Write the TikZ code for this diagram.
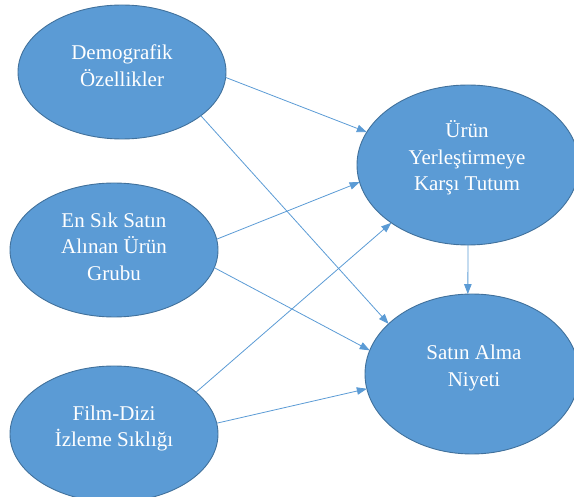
\documentclass[tikz,border=0pt]{standalone}
\usepackage{fontspec}
\setmainfont{Liberation Serif}
\usetikzlibrary{shapes.geometric,arrows.meta}
\definecolor{ellfill}{HTML}{5B9BD5}
\definecolor{ellline}{HTML}{41719C}
\definecolor{arrcol}{HTML}{5B9BD5}
\begin{document}
\begin{tikzpicture}[x=1pt,y=-1pt,
  blob/.style={ellipse,draw=ellline,line width=0.9pt,fill=ellfill,inner sep=0pt,outer sep=0pt},
  lbl/.style={text=white,align=center,font=\fontsize{21}{26.5}\selectfont,inner sep=0pt},
  conn/.style={draw=arrcol,line width=0.8pt,-{Triangle[length=10pt,width=7.5pt]}}]
\useasboundingbox (0,0) rectangle (574,497);
% ellipses
\node[blob,minimum width=208pt,minimum height=134pt] (d) at (122,72) {};
\node[blob,minimum width=208pt,minimum height=134pt] (e) at (114,250) {};
\node[blob,minimum width=208pt,minimum height=136pt] (f) at (114,434) {};
\node[blob,minimum width=222pt,minimum height=160pt] (u) at (468,165) {};
\node[blob,minimum width=214pt,minimum height=160pt] (s) at (472,374) {};
% labels
\node[lbl] (dt) at (122,67.7) {\strut Demografik\\\strut Özellikler};
\node[lbl] (et) at (114,248.7) {\strut En Sık Satın\\\strut Alınan Ürün\\\strut Grubu};
\node[lbl] (ft) at (114,428.4) {\strut Film-Dizi\\\strut İzleme Sıklığı};
\node[lbl] (ut) at (467,159.2) {\strut Ürün\\\strut Yerleştirmeye\\\strut Karşı Tutum};
\node[lbl] (st) at (474,367.7) {\strut Satın Alma\\\strut Niyeti};
% connectors
\draw[conn] (d.-3) -- (u.162);
\draw[conn] (d.-29) -- (s.149);
\draw[conn] (e.6) -- (u.189);
\draw[conn] (e.-10) -- (s.167);
\draw[conn] (f.27) -- (u.217);
\draw[conn] (f.6) -- (s.188);
\draw[conn] (u.south) -- (s.93);
\end{tikzpicture}
\end{document}
